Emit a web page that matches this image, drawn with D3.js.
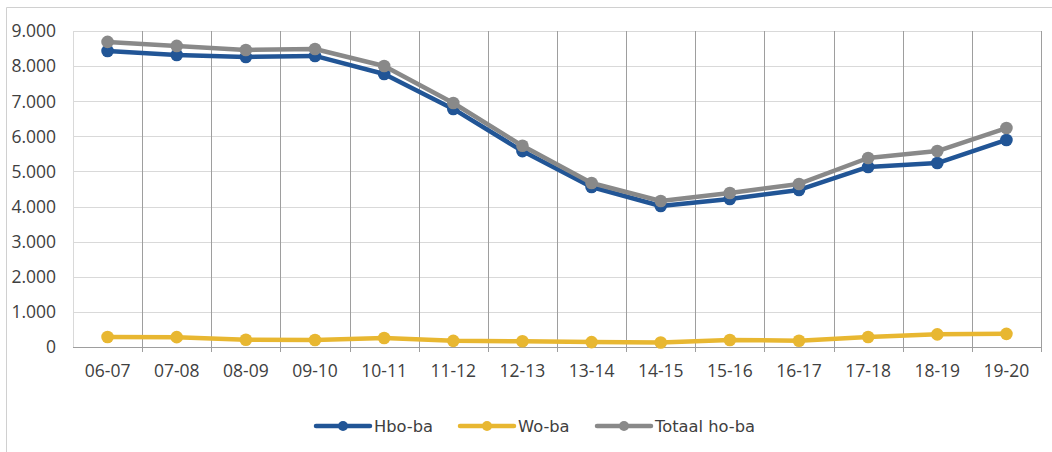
<!DOCTYPE html>
<html><head><meta charset="utf-8">
<script src="https://cdn.jsdelivr.net/npm/d3@7"></script>
<style>body{margin:0;background:#fff}svg{display:block}</style>
</head><body>
<svg id="c" width="1052" height="452"></svg>
<script>
const categories = ["06-07","07-08","08-09","09-10","10-11","11-12","12-13","13-14","14-15","15-16","16-17","17-18","18-19","19-20"];
const hboBa = [8430,8316,8260,8290,7775,6780,5580,4557,4016,4215,4472,5127,5240,5896];
const woBa = [285,280,205,200,255,175,165,140,130,200,180,285,360,375];
const totaalHoBa = [8690,8575,8460,8488,8003,6950,5730,4670,4158,4386,4643,5383,5582,6237];
const yTicks = [0,1000,2000,3000,4000,5000,6000,7000,8000,9000];
const seriesNames = ["Hbo-ba","Wo-ba","Totaal ho-ba"];
const colors = ["#215596","#E8B731","#898989"];

const svg = d3.select("#c");
// outer frame
svg.append("line").attr("x1",6.5).attr("x2",6.5).attr("y1",7.5).attr("y2",452).attr("stroke","#d0d0d0");
svg.append("line").attr("x1",6.5).attr("x2",1052).attr("y1",7.5).attr("y2",7.5).attr("stroke","#d0d0d0");

const L=73, R=1041, T=31, B=347;
const x = d3.scaleBand().domain(categories).range([L,R]);
const y = d3.scaleLinear().domain([0,9000]).range([B,T]);
const fmt = v => d3.format(",")(v).replace(/,/g,".");

// horizontal grid
svg.append("g").selectAll("line").data(yTicks.filter(d=>d>0)).join("line")
  .attr("x1",L).attr("x2",R).attr("y1",d=>Math.round(y(d))+0.5).attr("y2",d=>Math.round(y(d))+0.5)
  .attr("stroke","#d9d9d9").attr("stroke-width",1);
// vertical grid at category boundaries
const bounds = categories.map(c=>x(c)).slice(1).concat([R]);
svg.append("g").selectAll("line").data(bounds).join("line")
  .attr("x1",d=>Math.round(d)+0.5).attr("x2",d=>Math.round(d)+0.5).attr("y1",T).attr("y2",B+5)
  .attr("stroke","#9e9e9e").attr("stroke-width",1);
// left axis line & bottom axis line
svg.append("line").attr("x1",L+0.5).attr("x2",L+0.5).attr("y1",T).attr("y2",B+0.5).attr("stroke","#d9d9d9");
svg.append("line").attr("x1",L).attr("x2",R+0.5).attr("y1",B+0.5).attr("y2",B+0.5).attr("stroke","#9e9e9e");

// y labels
svg.append("g").selectAll("text").data(yTicks).join("text")
  .attr("x",56).attr("y",d=>y(d)).attr("dy","0.36em").attr("text-anchor","end")
  .attr("font-family","Open Sans, sans-serif").attr("font-size",17.5).attr("fill","#404040")
  .text(fmt);
// x labels
svg.append("g").selectAll("text").data(categories).join("text")
  .attr("x",d=>x(d)+x.bandwidth()/2).attr("y",371).attr("dy","0.36em").attr("text-anchor","middle")
  .attr("font-family","Open Sans, sans-serif").attr("font-size",17.5).attr("fill","#404040")
  .text(d=>d);

const data = [hboBa, woBa, totaalHoBa];
const line = d3.line().x((d,i)=>x(categories[i])+x.bandwidth()/2).y(d=>y(d));
data.forEach((s,k)=>{
  const g = svg.append("g");
  g.append("path").datum(s).attr("d",line).attr("fill","none")
    .attr("stroke",colors[k]).attr("stroke-width",4.5).attr("stroke-linejoin","round").attr("stroke-linecap","round");
  g.selectAll("circle").data(s).join("circle")
    .attr("cx",(d,i)=>x(categories[i])+x.bandwidth()/2).attr("cy",d=>y(d)).attr("r",6.3).attr("fill",colors[k]);
});

// legend
const legX = [316,460,597];
const lg = svg.append("g");
seriesNames.forEach((n,k)=>{
  const g = lg.append("g").attr("transform",`translate(${legX[k]},426)`);
  g.append("line").attr("x1",0).attr("x2",54).attr("y1",0).attr("y2",0)
    .attr("stroke",colors[k]).attr("stroke-width",4.5).attr("stroke-linecap","round");
  g.append("circle").attr("cx",27).attr("cy",0).attr("r",5).attr("fill",colors[k]);
  g.append("text").attr("x",58).attr("y",0).attr("dy","0.36em")
    .attr("font-family","DejaVu Sans, sans-serif").attr("font-size",16.3).attr("fill","#404040").text(n);
});
</script>
</body></html>
